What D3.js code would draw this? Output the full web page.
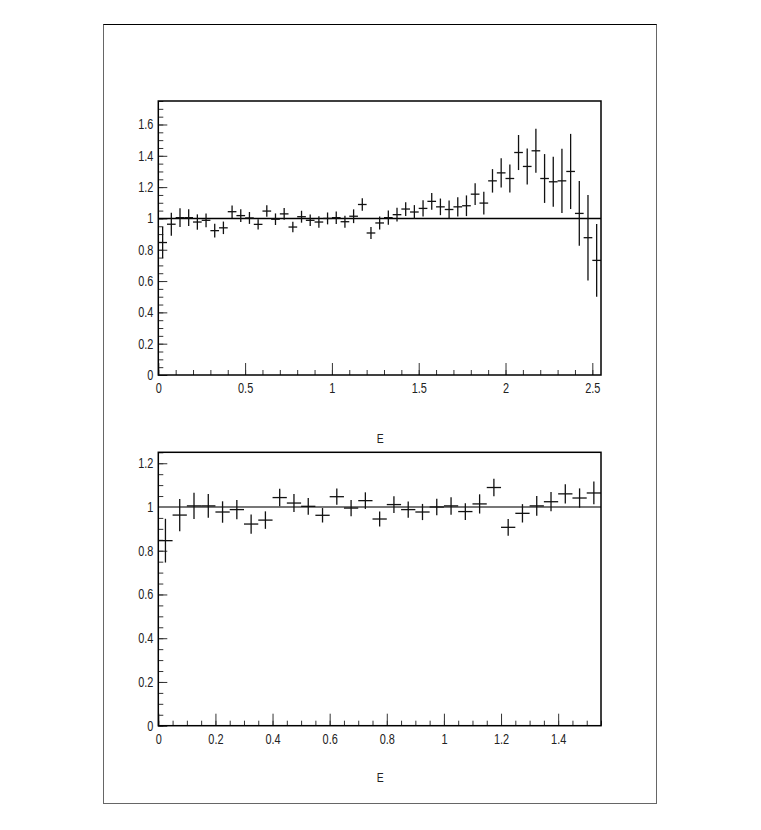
<!DOCTYPE html>
<html>
<head>
<meta charset="utf-8">
<script src="https://cdn.jsdelivr.net/npm/d3@7"></script>
<style>
  html, body { margin: 0; padding: 0; background: #fff; }
  svg { display: block; }
  text { font-family: "Liberation Sans", Arial, sans-serif; fill: #222; }
</style>
</head>
<body>
<svg id="chart" width="761" height="830"></svg>
<script>
// ---- data ----
const binCenters = [0.025, 0.075, 0.125, 0.175, 0.225, 0.275, 0.325, 0.375, 0.425, 0.475,
  0.525, 0.575, 0.625, 0.675, 0.725, 0.775, 0.825, 0.875, 0.925, 0.975,
  1.025, 1.075, 1.125, 1.175, 1.225, 1.275, 1.325, 1.375, 1.425, 1.475,
  1.525, 1.575, 1.625, 1.675, 1.725, 1.775, 1.825, 1.875, 1.925, 1.975,
  2.025, 2.075, 2.125, 2.175, 2.225, 2.275, 2.325, 2.375, 2.425, 2.475, 2.525];
const binHalfWidth = 0.025;
const ratio = [0.846, 0.963, 1.005, 1.005, 0.977, 0.988, 0.922, 0.940, 1.043, 1.018,
  1.003, 0.962, 1.047, 0.995, 1.029, 0.945, 1.011, 0.988, 0.977, 1.000,
  1.005, 0.979, 1.014, 1.089, 0.907, 0.971, 1.005, 1.024, 1.060, 1.041,
  1.064, 1.109, 1.074, 1.057, 1.074, 1.081, 1.155, 1.098, 1.240, 1.291,
  1.255, 1.421, 1.332, 1.432, 1.255, 1.234, 1.240, 1.300, 1.032, 0.877, 0.732];
const ratioErr = [0.100, 0.074, 0.060, 0.054, 0.049, 0.044, 0.044, 0.040, 0.040, 0.041,
  0.038, 0.033, 0.037, 0.037, 0.038, 0.034, 0.038, 0.037, 0.037, 0.038,
  0.040, 0.038, 0.044, 0.040, 0.038, 0.042, 0.045, 0.044, 0.044, 0.044,
  0.052, 0.053, 0.053, 0.058, 0.062, 0.066, 0.069, 0.073, 0.075, 0.093,
  0.090, 0.112, 0.115, 0.141, 0.156, 0.160, 0.205, 0.240, 0.207, 0.273, 0.232];
const referenceLevel = 1;
const topXTicks = [0, 0.5, 1, 1.5, 2, 2.5];
const topYTicks = [0, 0.2, 0.4, 0.6, 0.8, 1, 1.2, 1.4, 1.6];
const bottomXTicks = [0, 0.2, 0.4, 0.6, 0.8, 1, 1.2, 1.4];
const bottomYTicks = [0, 0.2, 0.4, 0.6, 0.8, 1, 1.2];
const xTitle = "E";

const svg = d3.select("#chart");

// outer page frame
svg.append("rect").attr("x", 103.5).attr("y", 24.5).attr("width", 553).attr("height", 779)
  .attr("fill", "none").attr("stroke", "#666").attr("stroke-width", 1);
svg.append("line").attr("x1", 103.5).attr("x2", 656.5).attr("y1", 24.5).attr("y2", 24.5)
  .attr("stroke", "#000").attr("stroke-width", 1);

const fmt = d => String(+(+d).toFixed(2));

function condense(sel, f) {
  sel.each(function () {
    const w = this.getComputedTextLength();
    d3.select(this).attr("textLength", w * f).attr("lengthAdjust", "spacingAndGlyphs");
  });
}

function panel(cfg) {
  const x = d3.scaleLinear().domain([0, cfg.xMax]).range([cfg.left, cfg.right]);
  const y = d3.scaleLinear().domain([0, cfg.yMax]).range([cfg.bottom, cfg.top]);
  const g = svg.append("g");
  const n = cfg.n;
  const pts = binCenters.slice(0, n).map((c, i) => ({ c, v: ratio[i], e: ratioErr[i] }));

  // minor ticks
  g.append("g").attr("transform", `translate(0,${cfg.bottom})`)
    .call(d3.axisBottom(x).tickValues(d3.range(0, cfg.xMax + 1e-9, cfg.xMinor)).tickSize(-5).tickFormat(""))
    .call(s => s.select(".domain").remove())
    .call(s => s.selectAll("line").attr("stroke", "#333"));
  g.append("g").attr("transform", `translate(${cfg.left},0)`)
    .call(d3.axisLeft(y).tickValues(d3.range(0, cfg.yMax + 1e-9, 0.05)).tickSize(-5).tickFormat(""))
    .call(s => s.select(".domain").remove())
    .call(s => s.selectAll("line").attr("stroke", "#333"));

  // major ticks + labels
  const xa = g.append("g").attr("transform", `translate(0,${cfg.bottom})`)
    .call(d3.axisBottom(x).tickValues(cfg.xTicks).tickSize(-12).tickPadding(8).tickFormat(fmt))
    .call(s => s.select(".domain").remove());
  xa.selectAll("line").attr("stroke", "#333");
  xa.selectAll("text").attr("font-size", 14).attr("font-family", "Liberation Sans, Arial, sans-serif")
    .attr("fill", "#222").call(condense, 0.78);
  const ya = g.append("g").attr("transform", `translate(${cfg.left},0)`)
    .call(d3.axisLeft(y).tickValues(cfg.yTicks).tickSize(-9).tickPadding(5).tickFormat(fmt))
    .call(s => s.select(".domain").remove());
  ya.selectAll("line").attr("stroke", "#333");
  ya.selectAll("text").attr("font-size", 14).attr("font-family", "Liberation Sans, Arial, sans-serif")
    .attr("fill", "#222").call(condense, 0.78);

  // reference line at 1
  g.append("line").attr("x1", x(0)).attr("x2", x(cfg.xMax))
    .attr("y1", y(referenceLevel)).attr("y2", y(referenceLevel))
    .attr("stroke", cfg.refColor).attr("stroke-width", cfg.refWidth);

  // error crosses
  const cross = g.append("g").selectAll("g").data(pts).join("g");
  cross.append("line")
    .attr("x1", d => x(d.c)).attr("x2", d => x(d.c))
    .attr("y1", d => y(d.v - d.e)).attr("y2", d => y(d.v + d.e))
    .attr("stroke", "#111").attr("stroke-width", 1.3);
  cross.append("line")
    .attr("x1", d => x(d.c - binHalfWidth)).attr("x2", d => x(d.c + binHalfWidth))
    .attr("y1", d => y(d.v)).attr("y2", d => y(d.v))
    .attr("stroke", "#111").attr("stroke-width", 1.3);

  // frame
  g.append("rect").attr("x", cfg.left).attr("y", cfg.top)
    .attr("width", cfg.right - cfg.left).attr("height", cfg.bottom - cfg.top)
    .attr("fill", "none").attr("stroke", "#000").attr("stroke-width", 1.5);

  // axis title
  g.append("text").attr("x", (cfg.left + cfg.right) / 2 + 0.5).attr("y", cfg.titleY)
    .attr("text-anchor", "middle").attr("font-size", 13).attr("fill", "#222")
    .text(xTitle).call(condense, 0.8);
}

panel({ left: 158.3, right: 601, top: 101, bottom: 375, xMax: 2.55, yMax: 1.75,
  xMinor: 0.1, xTicks: topXTicks, yTicks: topYTicks, n: 51,
  refColor: "#000", refWidth: 1.5, titleY: 443 });
panel({ left: 158.3, right: 601, top: 452.3, bottom: 725.7, xMax: 1.55, yMax: 1.25,
  xMinor: 0.05, xTicks: bottomXTicks, yTicks: bottomYTicks, n: 31,
  refColor: "#777", refWidth: 2, titleY: 782 });
</script>
</body>
</html>
